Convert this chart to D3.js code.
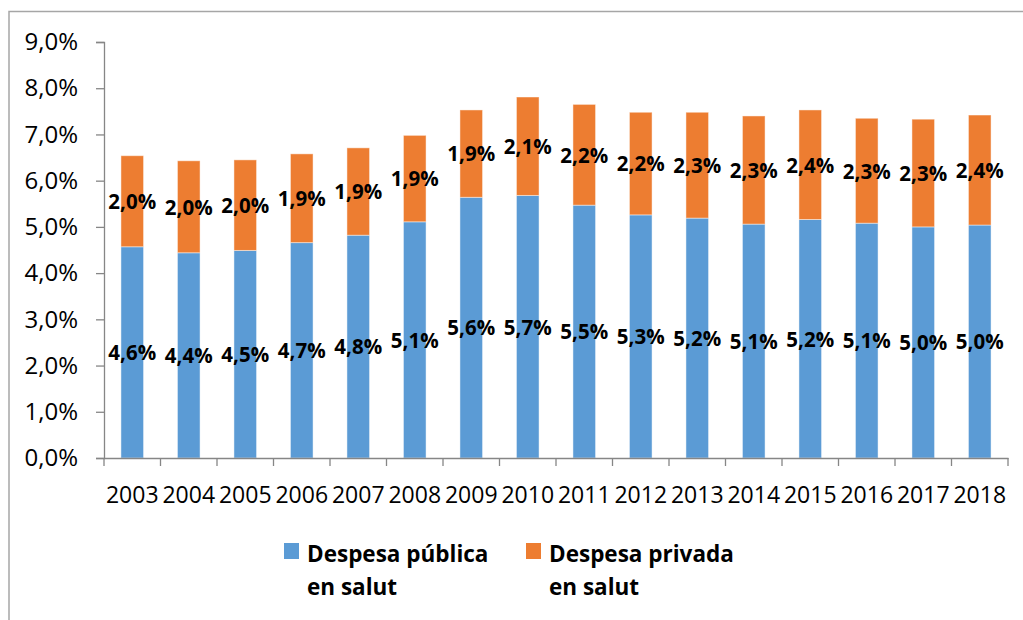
<!DOCTYPE html>
<html>
<head>
<meta charset="utf-8">
<script src="https://cdn.jsdelivr.net/npm/d3@7"></script>
<style>
  html, body { margin: 0; padding: 0; background: #fff; }
  svg { display: block; }
  text { font-family: "Open Sans", "Noto Sans", sans-serif; }
</style>
</head>
<body>
<svg id="chart" width="1023" height="620"></svg>
<script>
const years = ["2003","2004","2005","2006","2007","2008","2009","2010","2011","2012","2013","2014","2015","2016","2017","2018"];
const publicSpend = [4.57, 4.44, 4.49, 4.66, 4.82, 5.11, 5.64, 5.68, 5.47, 5.26, 5.19, 5.06, 5.16, 5.08, 5.00, 5.04];
const privateSpend = [1.97, 1.99, 1.96, 1.92, 1.89, 1.87, 1.89, 2.13, 2.18, 2.22, 2.29, 2.34, 2.37, 2.27, 2.33, 2.38];
const seriesNames = [["Despesa pública", "en salut"], ["Despesa privada", "en salut"]];
const seriesColors = ["#5B9BD5", "#ED7D31"];
const yTicks = [0, 1, 2, 3, 4, 5, 6, 7, 8, 9];

const svg = d3.select("#chart");

// outer frame (top and left edges visible)
svg.append("path")
  .attr("d", "M9,620 L9,11.5 L1023,11.5")
  .attr("fill", "none")
  .attr("stroke", "#a6a6a6")
  .attr("stroke-width", 1.5);

const xb = d3.scaleBand().domain(years).range([104, 1008]);
const y = d3.scaleLinear().domain([0, 9]).range([458, 42]);

const fmt = v => d3.format(".1f")(v).replace(".", ",") + "%";

const rows = years.map((yr, i) => ({ year: yr, pub: publicSpend[i], priv: privateSpend[i] }));
const stack = d3.stack().keys(["pub", "priv"])(rows);

// bars
stack.forEach((layer, li) => {
  svg.append("g").selectAll("rect").data(layer).join("rect")
    .attr("x", d => xb(d.data.year) + (xb.bandwidth() - xb.bandwidth() * 0.4) / 2)
    .attr("width", xb.bandwidth() * 0.4)
    .attr("y", d => y(d[1]))
    .attr("height", d => y(d[0]) - y(d[1]))
    .attr("fill", seriesColors[li])
    .attr("stroke", "#ffffff")
    .attr("stroke-opacity", 0.45)
    .attr("stroke-width", 1);
});

// y axis
const yAxis = d3.axisLeft(y).tickValues(yTicks).tickSize(8).tickPadding(18)
  .tickFormat(d => d3.format(".1f")(d).replace(".", ",") + "%");
const gy = svg.append("g").attr("transform", "translate(104,0)").call(yAxis);
gy.select(".domain").attr("stroke", "#868686").attr("stroke-width", 1.3);
gy.selectAll(".tick line").attr("stroke", "#868686").attr("stroke-width", 1.3);
gy.selectAll(".tick text").attr("font-size", 24).attr("fill", "#000")
  .style("font-family", "'Open Sans', sans-serif");

// x axis
const xAxis = d3.axisBottom(xb).tickSize(0).tickPadding(0);
const gx = svg.append("g").attr("transform", "translate(0,458)").call(xAxis);
gx.select(".domain").attr("stroke", "#868686").attr("stroke-width", 1.3);
gx.selectAll(".tick text").attr("font-size", 23).attr("fill", "#000")
  .attr("y", 37).attr("dy", "0.35em")
  .style("font-family", "'Open Sans', sans-serif");
// boundary tick marks
const bounds = years.map(yr => xb(yr)).concat([xb(years[years.length - 1]) + xb.bandwidth()]);
gx.selectAll("line.bt").data(bounds).join("line")
  .attr("class", "bt")
  .attr("x1", d => d).attr("x2", d => d)
  .attr("y1", 0).attr("y2", 8)
  .attr("stroke", "#868686").attr("stroke-width", 1.3);

// data labels
stack.forEach(layer => {
  svg.append("g").selectAll("text").data(layer).join("text")
    .attr("x", d => xb(d.data.year) + xb.bandwidth() / 2)
    .attr("y", d => (y(d[0]) + y(d[1])) / 2)
    .attr("dy", "0.38em")
    .attr("text-anchor", "middle")
    .attr("font-size", 20.5)
    .attr("font-weight", "bold")
    .attr("fill", "#000")
    .text(d => fmt(d[1] - d[0]));
});

// legend
const legendX = [284, 526];
seriesNames.forEach((lines, i) => {
  const g = svg.append("g").attr("transform", `translate(${legendX[i]},0)`);
  g.append("rect").attr("x", 0).attr("y", 543).attr("width", 15).attr("height", 16)
    .attr("fill", seriesColors[i]);
  const t = g.append("text").attr("x", 23).attr("y", 562)
    .attr("font-size", 22.5).attr("font-weight", "bold").attr("fill", "#000");
  lines.forEach((ln, k) => {
    t.append("tspan").attr("x", 23).attr("dy", k === 0 ? 0 : 33).text(ln);
  });
});
</script>
</body>
</html>
